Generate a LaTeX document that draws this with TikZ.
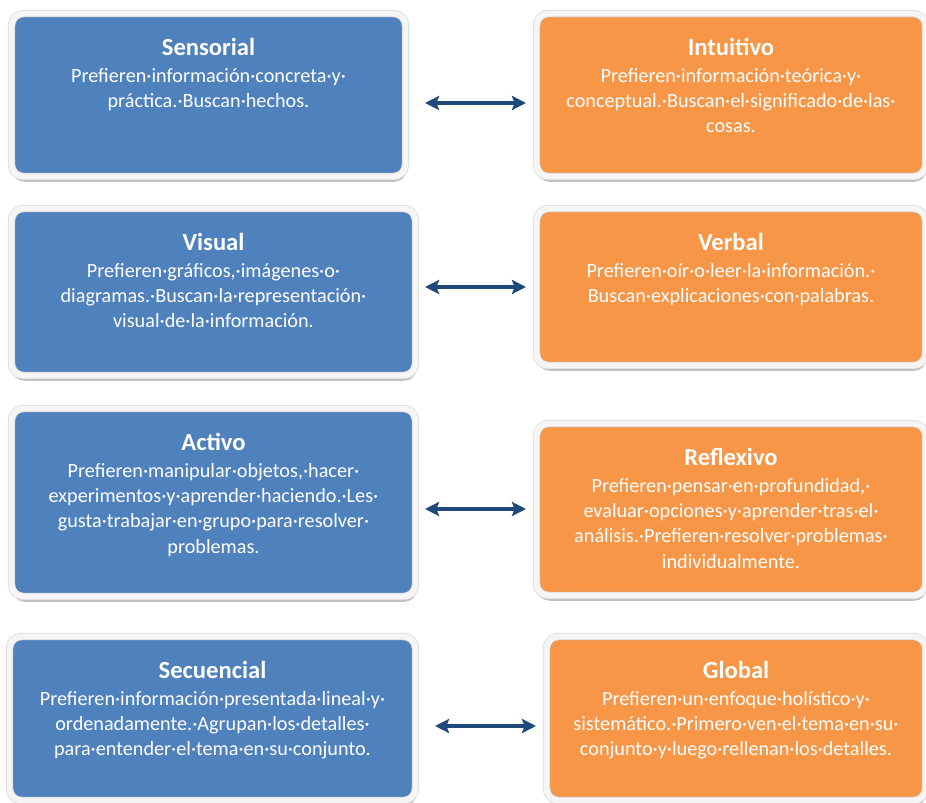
\documentclass[tikz,border=0pt]{standalone}
\usepackage{fontspec}
\setmainfont{Carlito}
\usetikzlibrary{positioning,shadows,arrows.meta}
\definecolor{azul}{HTML}{4F81BD}
\definecolor{naranja}{HTML}{F79646}
\definecolor{flecha}{HTML}{1F497D}
\newcommand\titulo[1]{{\fontsize{14}{15}\selectfont\bfseries #1}}

\begin{document}
\begin{tikzpicture}[x=0.02cm,y=-0.02cm,
  caja/.style 2 args={rounded corners=0.24cm, minimum width=#1*0.02cm, minimum height=#2*0.02cm,
    draw=black!15, double=black!4, line width=0.4pt, double distance=3.4pt,
    drop shadow={shadow xshift=0.5pt, shadow yshift=-3pt, fill=black!50, opacity=0.5}},
  izq/.style={fill=azul},
  der/.style={fill=naranja},
  texto/.style={align=center, text=white, inner sep=0pt, font=\fontsize{11.5}{14.3}\selectfont},
  flechas/.style={{Stealth[length=8pt,width=8pt,inset=1.5pt]}-{Stealth[length=8pt,width=8pt,inset=1.5pt]}, line width=1.8pt, draw=flecha}]
\useasboundingbox (0,0) rectangle (926,803);

% cajas
\node[caja={394}{163}, izq] (sens) at (208.5,95) {};
\node[caja={389}{163}, der] (intu) at (731,95) {};
\node[caja={404}{167}, izq] (visu) at (213.5,292) {};
\node[caja={389}{157}, der] (verb) at (731,287) {};
\node[caja={404}{188}, izq] (acti) at (213.5,502.5) {};
\node[caja={389}{172}, der] (refl) at (731,509.5) {};
\node[caja={406}{164}, izq] (secu) at (212.5,718.5) {};
\node[caja={379}{164}, der] (glob) at (736,718.5) {};

% textos
\node[texto, below=0.5cm of sens.north] (sens-t) {\titulo{Sensorial}\\[1pt]
  Prefieren·información·concreta·y·\\
  práctica.·Buscan·hechos.};
\node[texto, below=0.5cm of intu.north] (intu-t) {\titulo{Intuitivo}\\[1pt]
  Prefieren·información·teórica·y·\\
  conceptual.·Buscan·el·significado·de·las·\\
  cosas.};
\node[texto, below=0.5cm of visu.north] (visu-t) {\titulo{Visual}\\[1pt]
  Prefieren·gráficos,·imágenes·o·\\
  diagramas.·Buscan·la·representación·\\
  visual·de·la·información.};
\node[texto, below=0.5cm of verb.north] (verb-t) {\titulo{Verbal}\\[1pt]
  Prefieren·oír·o·leer·la·información.·\\
  Buscan·explicaciones·con·palabras.};
\node[texto, below=0.5cm of acti.north] (acti-t) {\titulo{Activo}\\[1pt]
  Prefieren·manipular·objetos,·hacer·\\
  experimentos·y·aprender·haciendo.·Les·\\
  gusta·trabajar·en·grupo·para·resolver·\\
  problemas.};
\node[texto, below=0.5cm of refl.north] (refl-t) {\titulo{Reflexivo}\\[1pt]
  Prefieren·pensar·en·profundidad,·\\
  evaluar·opciones·y·aprender·tras·el·\\
  análisis.·Prefieren·resolver·problemas·\\
  individualmente.};
\node[texto, below=0.5cm of secu.north] (secu-t) {\titulo{Secuencial}\\[1pt]
  Prefieren·información·presentada·lineal·y·\\
  ordenadamente.·Agrupan·los·detalles·\\
  para·entender·el·tema·en·su·conjunto.};
\node[texto, below=0.5cm of glob.north] (glob-t) {\titulo{Global}\\[1pt]
  Prefieren·un·enfoque·holístico·y·\\
  sistemático.·Primero·ven·el·tema·en·su·\\
  conjunto·y·luego·rellenan·los·detalles.};

% flechas
\foreach \n/\y/\a/\b in {1/103/425/526, 2/287/425/526, 3/509/425/526, 4/726/435/536}
{
  \coordinate (f\n-i) at (\a,\y);
  \coordinate (f\n-d) at (\b,\y);
  \draw[flechas] (f\n-i) -- (f\n-d);
}
\end{tikzpicture}
\end{document}
